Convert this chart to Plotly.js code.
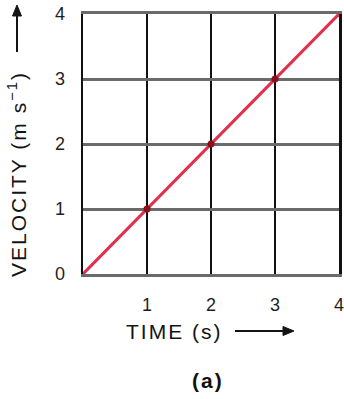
<!DOCTYPE html>
<html>
<head>
<meta charset="utf-8">
<script src="https://cdn.plot.ly/plotly-3.0.1.min.js"></script>
<style>
  html, body { margin: 0; padding: 0; background: #fff; }
  #chart { width: 344px; height: 399px; }
  .wide-text .annotation-text { letter-spacing: 2px; }
  .wide-text .annotation:nth-of-type(2) .annotation-text { letter-spacing: 2.6px; }
</style>
</head>
<body>
<div id="chart" class="wide-text"></div>
<script>
// Uniform motion: velocity grows linearly with time
const time = [0, 1, 2, 3, 4];
const velocity = [0, 1, 2, 3, 4];
const markedTime = [1, 2, 3];
const markedVelocity = [1, 2, 3];
const xTicks = [1, 2, 3, 4];
const yTicks = [0, 1, 2, 3, 4];

const W = 344, H = 399;
const M = { l: 83, r: 5, t: 14, b: 125 };
const PW = W - M.l - M.r, PH = H - M.t - M.b;
// pixel position -> paper fraction
const px = x => (x - M.l) / PW;
const py = y => (H - M.b - y) / PH;

const ink = '#141414';
const titleFont = { family: 'Liberation Sans, Arial, sans-serif', size: 21, color: ink };

// Arrow drawn as a shaft plus a filled triangular head (pixel geometry -> paper)
function arrowShapes(x0, y0, x1, y1, headLen, headHalf) {
  const dx = x1 - x0, dy = y1 - y0, len = Math.hypot(dx, dy);
  const ux = dx / len, uy = dy / len;
  const bx = x1 - ux * headLen, by = y1 - uy * headLen;
  const nx = -uy * headHalf, ny = ux * headHalf;
  const pt = (x, y) => px(x) + ',' + py(y);
  return [
    { type: 'line', xref: 'paper', yref: 'paper',
      x0: px(x0), y0: py(y0), x1: px(bx + ux), y1: py(by + uy),
      line: { color: ink, width: 2 } },
    { type: 'path', xref: 'paper', yref: 'paper',
      path: 'M' + pt(x1, y1) + ' L' + pt(bx + nx, by + ny) + ' L' + pt(bx - nx, by - ny) + ' Z',
      fillcolor: ink, line: { color: ink, width: 1 } }
  ];
}

const traces = [
  {
    x: time, y: velocity, mode: 'lines',
    line: { color: '#e0304c', width: 3 },
    hoverinfo: 'skip', showlegend: false
  },
  {
    x: markedTime, y: markedVelocity, mode: 'markers',
    marker: { color: '#8e0f1c', size: 7 },
    hoverinfo: 'skip', showlegend: false
  }
];

const layout = {
  width: W, height: H,
  margin: M,
  paper_bgcolor: '#fff', plot_bgcolor: '#fff',
  font: { family: 'Liberation Sans, Arial, sans-serif', size: 18, color: '#1e1e1e' },
  xaxis: {
    range: [0, 4], tickvals: xTicks, ticktext: xTicks.map(String),
    showgrid: true, gridcolor: '#111', gridwidth: 2.5,
    zeroline: false, showline: true, mirror: true,
    linecolor: '#6a6a6a', linewidth: 3,
    ticks: '', ticklabelstandoff: 12, ticklabeloverflow: 'allow',
    fixedrange: true
  },
  yaxis: {
    range: [0, 4], tickvals: yTicks, ticktext: yTicks.map(String),
    showgrid: true, gridcolor: '#6a6a6a', gridwidth: 3,
    zeroline: false, showline: true, mirror: true,
    linecolor: '#111', linewidth: 2.5,
    ticks: '', ticklabelstandoff: 12, ticklabeloverflow: 'allow',
    fixedrange: true
  },
  shapes: [
    ...arrowShapes(235, 331, 294, 331, 11, 4.5),
    ...arrowShapes(17, 52, 17, 5, 11, 4.5)
  ],
  annotations: [
    {
      xref: 'paper', yref: 'paper', x: px(174), y: py(331),
      text: 'TIME (s)', showarrow: false, font: titleFont,
      xanchor: 'center', yanchor: 'middle'
    },
    {
      xref: 'paper', yref: 'paper', x: px(17), y: py(174),
      text: 'VELOCITY (m s<sup>\u22121</sup>)', showarrow: false, font: titleFont,
      textangle: -90, xanchor: 'center', yanchor: 'middle'
    },
    {
      xref: 'paper', yref: 'paper', x: px(208), y: py(381),
      text: '<b>(a)</b>', showarrow: false,
      font: { family: 'Liberation Sans, Arial, sans-serif', size: 21, color: '#111' },
      xanchor: 'center', yanchor: 'middle'
    }
  ]
};

Plotly.newPlot('chart', traces, layout, { staticPlot: true, displayModeBar: false });
</script>
</body>
</html>
